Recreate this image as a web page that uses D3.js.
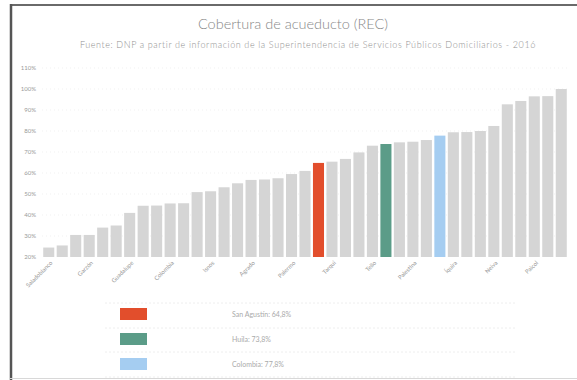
<!DOCTYPE html>
<html><head><meta charset="utf-8">
<script src="https://cdn.jsdelivr.net/npm/d3@7"></script>
<style>
html,body{margin:0;padding:0;background:#fff;}
svg{display:block;font-family:Lato,"Open Sans",sans-serif;}
</style></head>
<body>
<svg id="chart" width="577" height="380"></svg>
<script>
const categories = ["Saladoblanco","Oporapa","La Argentina","Garzón","Acevedo","Santa María","Guadalupe","Nátaga","Elías","Colombia","Suaza","Timaná","Isnos","La Plata","Gigante","Agrado","Algeciras","Teruel","Palermo","Pital","San Agustín","Tarqui","Tesalia","Baraya","Tello","Huila","Altamira","Palestina","Pitalito","Colombia (país)","Íquira","Aipe","Villavieja","Neiva","Rivera","Campoalegre","Paicol","Hobo","Yaguará"];
const values = [24.5,25.5,30.5,30.5,34,35,41,44.4,44.5,45.5,45.6,50.9,51.3,53.2,55.1,56.7,56.9,57.5,59.5,61,64.8,65.4,66.7,69.8,73,73.8,74.6,74.9,75.7,77.8,79.4,79.5,80,82.4,92.7,94.3,96.5,96.6,100];
const tickLabels = ["Saladoblanco","Garzón","Guadalupe","Colombia","Isnos","Agrado","Palermo","Tarqui","Tello","Palestina","Íquira","Neiva","Paicol"];
const tickValues = [20,30,40,50,60,70,80,90,100,110];
const highlightCats = ["San Agustín","Huila","Colombia (país)"];
const highlightColors = ["#e24e2c","#5b9c88","#a5cdf1"];
const legendLabels = ["San Agustín","Huila","Colombia"];
const title = "Cobertura de acueducto (REC)";
const subtitle = "Fuente: DNP a partir de información de la Superintendencia de Servicios Públicos Domiciliarios - 2016";

const svg = d3.select("#chart");

// frame
svg.append("line").attr("x1",10).attr("x2",577).attr("y1",5).attr("y2",5).attr("stroke","#6a6a6a").attr("stroke-width",2);
svg.append("line").attr("x1",11).attr("x2",11).attr("y1",4).attr("y2",380).attr("stroke","#555").attr("stroke-width",2.5);
svg.append("line").attr("x1",10).attr("x2",577).attr("y1",378.5).attr("y2",378.5).attr("stroke","#d8d8d8").attr("stroke-width",1);

svg.append("text").attr("x",293).attr("y",29).attr("text-anchor","middle")
  .attr("font-size",14.5).attr("font-weight",300).attr("fill","#888").text(title);
svg.append("text").attr("x",308).attr("y",48).attr("text-anchor","middle")
  .attr("font-size",9).attr("letter-spacing",0.6).attr("font-weight",300).attr("fill","#8f8f8f").text(subtitle);

const x = d3.scaleBand().domain(categories).range([42,568]).paddingInner(0.18).paddingOuter(0.09);
const y = d3.scaleLinear().domain([20,110]).range([257,68]);

// faint gridlines
svg.append("g").selectAll("line").data(tickValues.filter(v=>v>20)).join("line")
  .attr("x1",42).attr("x2",568).attr("y1",d=>y(d)).attr("y2",d=>y(d))
  .attr("stroke","#f1f1f1").attr("stroke-dasharray","1,3");

const yAxis = d3.axisLeft(y).tickValues(tickValues).tickFormat(d=>d+"%").tickSize(0).tickPadding(0);
const gy = svg.append("g").attr("transform","translate(36,0)").call(yAxis);
gy.select(".domain").remove();
gy.selectAll("text").attr("font-size",6).attr("fill","#999").attr("font-family","Lato,sans-serif");

const colorOf = c => { const i = highlightCats.indexOf(c); return i>=0 ? highlightColors[i] : "#d5d5d5"; };

svg.append("g").selectAll("rect").data(categories).join("rect")
  .attr("x",d=>x(d)).attr("width",x.bandwidth())
  .attr("y",(d,i)=>y(values[i])).attr("height",(d,i)=>y(20)-y(values[i]))
  .attr("fill",d=>colorOf(d));

const tickCats = categories.filter((c,i)=>i%3===0);
const xAxis = d3.axisBottom(x).tickValues(tickCats).tickFormat((d,i)=>tickLabels[i]).tickSize(0).tickPadding(0);
const gx = svg.append("g").attr("transform","translate(0,262)").call(xAxis);
gx.select(".domain").remove();
gx.selectAll("text").attr("font-size",6).attr("fill","#999").attr("font-family","Lato,sans-serif")
  .attr("text-anchor","end").attr("dy","0.3em").attr("transform","translate(3,0) rotate(-45)");

// legend
const legendRows = [308,333,358];
svg.append("g").selectAll("line").data([303,328,352,377]).join("line")
  .attr("x1",105).attr("x2",515).attr("y1",d=>d).attr("y2",d=>d)
  .attr("stroke","#eeeeee").attr("stroke-dasharray","2,2");
const lg = svg.append("g").selectAll("g").data(legendLabels).join("g")
  .attr("transform",(d,i)=>`translate(120,${legendRows[i]})`);
lg.append("rect").attr("width",27).attr("height",12).attr("fill",(d,i)=>highlightColors[i]);
lg.append("text").attr("x",112).attr("y",9).attr("font-size",7).attr("fill","#aaa")
  .text((d,i)=>d+": "+d3.format(".1f")(values[categories.indexOf(highlightCats[i])]).replace(".",",")+"%");
</script>
</body></html>
